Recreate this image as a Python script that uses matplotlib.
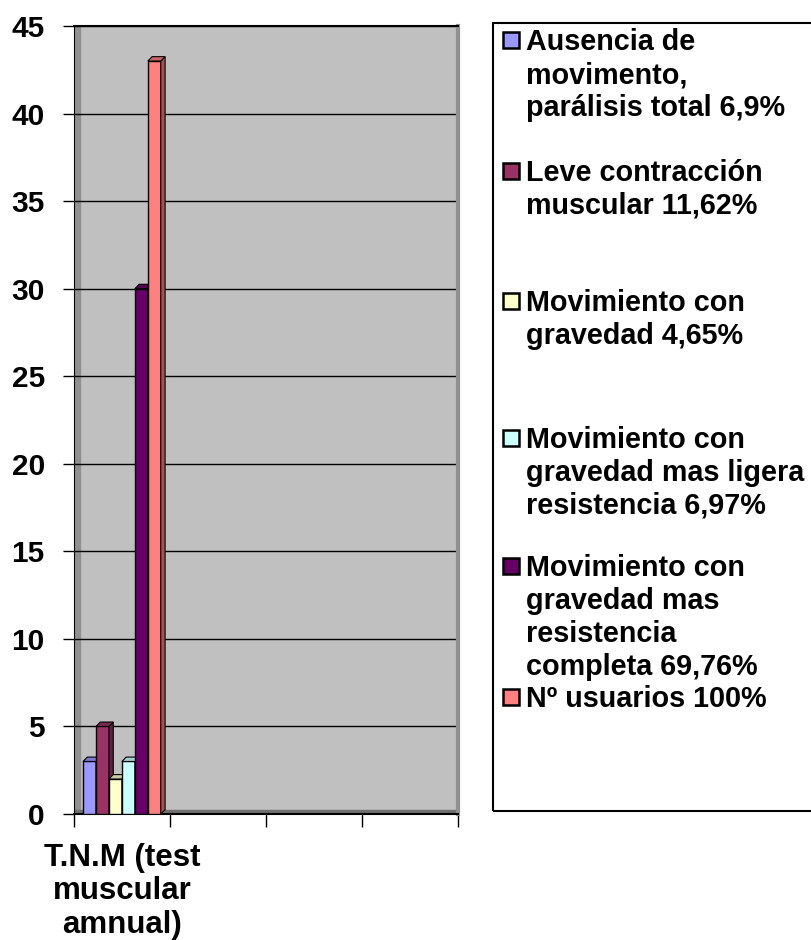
import matplotlib.pyplot as plt
from matplotlib.patches import Polygon, Rectangle
import matplotlib.colors as mcolors

plt.rcParams['font.family'] = ['Liberation Sans', 'DejaVu Sans']
plt.rcParams['font.weight'] = 'bold'

category = "T.N.M (test\nmuscular\namnual)"
series = [
    "Ausencia de\nmovimento,\nparálisis total 6,9%",
    "Leve contracción\nmuscular 11,62%",
    "Movimiento con\ngravedad 4,65%",
    "Movimiento con\ngravedad mas ligera\nresistencia 6,97%",
    "Movimiento con\ngravedad mas\nresistencia\ncompleta 69,76%",
    "Nº usuarios 100%",
]
values = [3, 5, 2, 3, 30, 43]
colors = ["#9999FF", "#993366", "#FFFFCC", "#CCFFFF", "#660066", "#FF8080"]
yticks = [0, 5, 10, 15, 20, 25, 30, 35, 40, 45]


def shade(c, f):
    r, g, b = mcolors.to_rgb(c)
    return (r * f, g * f, b * f)


W, H = 812, 940
fig = plt.figure(figsize=(W / 100, H / 100), dpi=100)
# axes placed in pixel terms
left, right, top, bottom = 74, 458, 26, 814
ax = fig.add_axes([left / W, (H - bottom) / H, (right - left) / W, (bottom - top) / H])
ax.set_facecolor("#C0C0C0")
ax.set_xlim(0, 4)
ax.set_ylim(0, 45)

# wall side and floor shading
ax.add_patch(Rectangle((0, 0), 0.016, 1, transform=ax.transAxes, color="#909090", zorder=0.5))
ax.add_patch(Rectangle((0, 0), 1, 0.005, transform=ax.transAxes, color="#707070", zorder=0.5))

for y in yticks[1:]:
    ax.axhline(y, color="black", lw=1, zorder=1)

bw = 0.135
x0 = 0.094
dx, dy = 0.045, 0.25
for i, (v, c) in enumerate(zip(values, colors)):
    l = x0 + i * bw
    r = l + bw
    z = 3 + i
    ax.bar(l, v, width=bw, align="edge", color=c, edgecolor="black", lw=1, zorder=z)
    ax.add_patch(Polygon([(r, 0), (r + dx, dy), (r + dx, v + dy), (r, v)], closed=True,
                         facecolor=shade(c, 0.65), edgecolor="black", lw=0.8, zorder=z))
    ax.add_patch(Polygon([(l, v), (l + dx, v + dy), (r + dx, v + dy), (r, v)], closed=True,
                         facecolor=shade(c, 0.8), edgecolor="black", lw=0.8, zorder=z))

ax.set_yticks(yticks)
ax.set_yticklabels([str(t) for t in yticks], fontsize=21.5, fontweight="bold")
ax.tick_params(axis="y", length=8, width=1, pad=13)
ax.set_xticks([0, 1, 2, 3, 4])
ax.set_xticklabels([])
ax.tick_params(axis="x", length=9, width=1)
ax.set_xticks([0.5], [category], minor=True)
ax.tick_params(axis="x", which="minor", length=0, pad=21, labelsize=22.5)
for t in ax.get_xticklabels(minor=True):
    t.set_fontweight("bold")
    t.set_linespacing(1.14)

ax.spines["left"].set_color("black")
ax.spines["bottom"].set_color("black")
ax.spines["bottom"].set_linewidth(1.5)
ax.spines["top"].set_color("black")
ax.spines["top"].set_linewidth(1.5)
ax.spines["right"].set_color("#909090")
ax.spines["right"].set_linewidth(3)

# legend box drawn by hand, matching the uneven spacing of the original
fig.patches.append(Rectangle((493 / W, (H - 811) / H), 340 / W, (811 - 23) / H,
                             transform=fig.transFigure, fill=False, edgecolor="black", lw=1.5))
marker_y = [40, 171, 301, 438, 566, 697]
line_h = 33
for lab, c, my in zip(series, colors, marker_y):
    fig.patches.append(Rectangle((503 / W, (H - my - 8) / H), 16 / W, 16 / H,
                                 transform=fig.transFigure, facecolor=c, edgecolor="black", lw=1.8))
    for k, line in enumerate(lab.split("\n")):
        base = my + 10 + k * line_h
        fig.text(526 / W, (H - base) / H, line, fontsize=20.7, fontweight="bold",
                 va="baseline", ha="left")

fig.savefig("out.png", dpi=100)
